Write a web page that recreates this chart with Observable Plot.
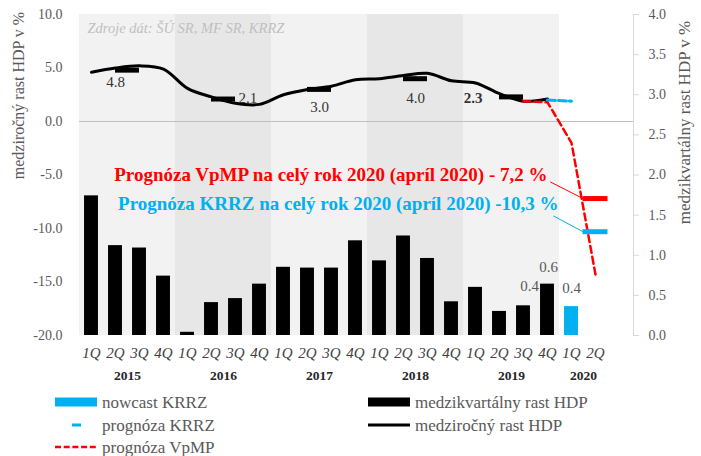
<!DOCTYPE html>
<html><head><meta charset="utf-8">
<script src="https://cdn.jsdelivr.net/npm/d3@7"></script>
<script src="https://cdn.jsdelivr.net/npm/@observablehq/plot@0.6"></script>
<style>
body{margin:0;background:#fff;}
#wrap{position:relative;width:701px;height:456px;font-family:"Liberation Serif",serif;overflow:hidden}
#wrap svg{display:block}
.leg{position:absolute;font-size:17px;color:#595959;line-height:1;white-space:nowrap;transform:translateY(-50%)}
.sw{position:absolute}
</style></head><body><div id="wrap"></div>
<script>
// ---------- data ----------
const years = [2015, 2016, 2017, 2018, 2019, 2020];
const quartersPerYear = [4, 4, 4, 4, 4, 2];
const quarterNames = ["1Q", "2Q", "3Q", "4Q"];
// medziročný rast HDP (left axis), 2015Q1 .. 2019Q4
const yoyGrowth = [4.6, 5.0, 5.2, 4.9, 3.1, 2.3, 1.7, 1.6, 2.5, 3.0, 3.3, 3.9, 4.0, 4.3, 4.5, 3.8, 3.6, 2.6, 1.9, 2.1];
// medzikvartálny rast HDP (right axis), 2015Q1 .. 2019Q4
const qoqGrowth = [1.74, 1.12, 1.09, 0.74, 0.04, 0.41, 0.46, 0.64, 0.85, 0.84, 0.84, 1.18, 0.93, 1.24, 0.96, 0.42, 0.60, 0.30, 0.37, 0.64];
// nowcast KRRZ (q-o-q), 2020Q1
const nowcastKRRZ = [0.36];
// prognóza KRRZ (y-o-y), 2019Q4 .. 2020Q1
const forecastKRRZ = [2.0, 1.9];
// prognóza VpMP (y-o-y), 2019Q3 .. 2020Q2
const forecastVpMP = [1.9, 1.8, -2.0, -14.3];
// annual y-o-y growth 2015..2019
const annualYoy = [4.8, 2.1, 3.0, 4.0, 2.3];
// full-year 2020 forecasts
const forecastSources = ["VpMP", "KRRZ"];
const forecastValues = [-7.2, -10.3];
const forecastTexts = ["Prognóza VpMP na celý rok 2020 (apríl 2020) - 7,2 %", "Prognóza KRRZ na celý rok 2020 (apríl 2020) -10,3 %"];
const leftTicks = [-20, -15, -10, -5, 0, 5, 10];
const rightTicks = [0, 0.5, 1, 1.5, 2, 2.5, 3, 3.5, 4];
const sourceNote = "Zdroje dát: ŠÚ SR, MF SR, KRRZ";
const leftTitle = "medziročný rast HDP v %";
const rightTitle = "medzikvartálny rast HDP v %";

// ---------- derived tables ----------
const quarters = [];
years.forEach((y, k) => { for (let q = 0; q < quartersPerYear[k]; q++) quarters.push({i: quarters.length, year: y, name: quarterNames[q]}); });
const yearSpans = years.map((y, k) => {
  const qs = quarters.filter(d => d.year === y);
  return {year: y, k, first: qs[0].i, last: qs[qs.length - 1].i, n: qs.length};
});
const R = v => -20 + v * 30 / 4; // right axis -> left axis units
const idxOf = (year, qn) => quarters.find(d => d.year === year && d.name === qn).i;

const yoyData = yoyGrowth.map((v, i) => ({i, v}));
const qoqData = qoqGrowth.map((v, i) => ({i, v}));
const nowData = nowcastKRRZ.map((v, k) => ({i: idxOf(2020, "1Q") + k, v}));
const krrzData = forecastKRRZ.map((v, k) => ({i: idxOf(2019, "4Q") + k, v}));
const vpmpData = forecastVpMP.map((v, k) => ({i: idxOf(2019, "3Q") + k, v}));
const annualData = annualYoy.map((v, k) => ({year: years[k], first: yearSpans[k].first, v}));
const fcData = forecastSources.map((s, k) => ({s, v: forecastValues[k], t: forecastTexts[k], i: idxOf(2020, "2Q")}));

// label placement (styles, not data)
const annualPlace = {
  2015: {x: 1, dx: 0, dy: 12, anchor: "middle", weight: "normal"},
  2016: {x: 2, dx: 3, dy: -1, anchor: "start", weight: "normal"},
  2017: {x: 1.5, dx: 0, dy: 18, anchor: "middle", weight: "normal"},
  2018: {x: 1.5, dx: 0, dy: 19, anchor: "middle", weight: "normal"},
  2019: {x: 1, dx: -17, dy: 1, anchor: "end", weight: "bold"}
};
const barLabelPlace = [{dx: 6, dy: -15}, {dx: 1, dy: -12}];
const colors = {VpMP: "#ff0000", KRRZ: "#00b0f0"};
const textPlace = {VpMP: {x: 19.0, y: -5.56, lx: 19.12, ly: -5.65}, KRRZ: {x: 19.46, y: -8.27, lx: 19.25, ly: -8.83}};
const gray = "#595959";
const bw = 0.29;

const chart = Plot.plot({
  width: 701, height: 385,
  marginLeft: 79, marginRight: 68, marginTop: 14, marginBottom: 50,
  x: {domain: [-0.5, 21.5], range: [79, 607], axis: null},
  y: {domain: [-20, 10], axis: null},
  style: {fontFamily: "Liberation Serif", background: "transparent", overflow: "visible"},
  marks: [
    // shaded background for complete years
    Plot.rect(yearSpans.filter(d => d.n === 4), {x1: d => d.first - 0.5, x2: d => d.last + 0.5, y1: -20, y2: 10, fill: d => d.k % 2 ? "#e7e7e7" : "#f2f2f2"}),
    Plot.ruleY([0], {stroke: "#bfbfbf", strokeWidth: 1}),
    Plot.frame({anchor: "right", stroke: "#d9d9d9"}),
    // q-o-q bars
    Plot.rectY(qoqData, {x1: d => d.i - bw, x2: d => d.i + bw, y1: -20, y2: d => R(d.v), fill: "#000"}),
    Plot.rectY(nowData, {x1: d => d.i - bw, x2: d => d.i + bw, y1: -20, y2: d => R(d.v), fill: "#00b0f0"}),
    // bar labels
    ...qoqData.slice(-2).map((d, k) => Plot.text([d], {x: "i", y: e => R(e.v), text: e => e.v.toFixed(1), lineAnchor: "bottom", dx: barLabelPlace[k].dx, dy: barLabelPlace[k].dy, fill: gray, fontSize: 15})),
    Plot.text(nowData, {x: "i", y: d => R(d.v), text: d => d.v.toFixed(1), lineAnchor: "bottom", dy: -14, fill: gray, fontSize: 15}),
    // y-o-y line
    Plot.line(yoyData, {x: "i", y: "v", stroke: "#000", strokeWidth: 3, curve: "catmull-rom"}),
    // annual averages
    Plot.ruleY(annualData, {x1: d => d.first + 1, x2: d => d.first + 2, y: "v", stroke: "#000", strokeWidth: 5}),
    ...annualData.map(d => Plot.text([d], {x: e => e.first + annualPlace[e.year].x, y: "v", text: e => e.v.toFixed(1), dx: annualPlace[d.year].dx, dy: annualPlace[d.year].dy, textAnchor: annualPlace[d.year].anchor, fontWeight: annualPlace[d.year].weight, fill: "#333", fontSize: 15})),
    // forecasts
    Plot.line(krrzData, {x: "i", y: "v", stroke: "#00b0f0", strokeWidth: 3, strokeDasharray: "8,3"}),
    Plot.line(vpmpData, {x: "i", y: "v", stroke: "#ff0000", strokeWidth: 2.5, strokeDasharray: "7,4"}),
    Plot.ruleY(fcData, {x1: d => d.i - 0.52, x2: d => d.i + 0.52, y: "v", stroke: d => colors[d.s], strokeWidth: 5}),
    Plot.link(fcData, {x1: d => textPlace[d.s].lx, y1: d => textPlace[d.s].ly, x2: d => d.i - 0.52, y2: "v", stroke: d => colors[d.s], strokeWidth: 1}),
    Plot.text(fcData, {x: d => textPlace[d.s].x, y: d => textPlace[d.s].y, text: "t", textAnchor: "end", lineAnchor: "bottom", fill: d => colors[d.s], fontWeight: "bold", fontSize: 19}),
    // source note
    Plot.text([sourceNote], {frameAnchor: "top-left", dx: 8, dy: 8, lineAnchor: "top", textAnchor: "start", fill: "#bfbfbf", fontStyle: "italic", fontSize: 14.5}),
    // axes
    Plot.axisY(leftTicks, {anchor: "left", label: null, tickSize: 0, tickPadding: 17, tickFormat: d => d.toFixed(1), fill: gray, fontSize: 14}),
    Plot.axisY(rightTicks.map(R), {anchor: "right", label: null, tickSize: 5, tickPadding: 10, stroke: "#d9d9d9", tickFormat: d => ((d + 20) * 4 / 30).toFixed(1), fill: gray, fontSize: 14}),
    Plot.axisX(quarters.map(d => d.i), {label: null, tickSize: 0, tickPadding: 12, tickFormat: i => quarters[i].name, fontStyle: "italic", fill: "#404040", fontSize: 15}),
    Plot.text(yearSpans, {x: d => (d.first + d.last) / 2, frameAnchor: "bottom", dy: 44, text: d => String(d.year), fontWeight: "bold", fill: "#262626", fontSize: 13.5}),
    // axis titles
    Plot.text([leftTitle], {frameAnchor: "left", textAnchor: "middle", dx: -61, dy: -79.5, rotate: -90, fill: gray, fontSize: 16}),
    Plot.text([rightTitle], {frameAnchor: "right", textAnchor: "middle", dx: 51, dy: -52.5, rotate: -90, fill: gray, fontSize: 17})
  ]
});
const wrap = document.getElementById("wrap");
wrap.appendChild(chart);

// ---------- legend (HTML, below the SVG) ----------
const legendItems = [
  {label: "nowcast KRRZ", kind: "rect", color: "#00b0f0", col: 0, row: 0},
  {label: "prognóza KRRZ", kind: "dash", color: "#00b0f0", col: 0, row: 1},
  {label: "prognóza VpMP", kind: "dashed", color: "#ff0000", col: 0, row: 2},
  {label: "medzikvartálny rast HDP", kind: "rect", color: "#000", col: 1, row: 0},
  {label: "medziročný rast HDP", kind: "line", color: "#000", col: 1, row: 1}
];
const colX = [55, 368], rowY = [402, 424.5, 447];
legendItems.forEach(it => {
  const x0 = colX[it.col], y0 = rowY[it.row];
  const s = document.createElementNS("http://www.w3.org/2000/svg", "svg");
  s.setAttribute("width", 44); s.setAttribute("height", 12);
  s.setAttribute("class", "sw");
  s.style.left = x0 + "px"; s.style.top = (y0 - 6) + "px";
  let inner = "";
  if (it.kind === "rect") inner = `<rect x="0" y="1.5" width="42" height="9" fill="${it.color}"/>`;
  if (it.kind === "dash") inner = `<line x1="17" x2="26" y1="6" y2="6" stroke="${it.color}" stroke-width="3"/>`;
  if (it.kind === "dashed") inner = `<line x1="0" x2="42" y1="6" y2="6" stroke="${it.color}" stroke-width="2.5" stroke-dasharray="6,2.7"/>`;
  if (it.kind === "line") inner = `<line x1="0" x2="42" y1="6" y2="6" stroke="${it.color}" stroke-width="3"/>`;
  s.innerHTML = inner;
  wrap.appendChild(s);
  const t = document.createElement("div");
  t.className = "leg"; t.textContent = it.label;
  t.style.left = (x0 + 47) + "px"; t.style.top = y0 + "px";
  wrap.appendChild(t);
});
</script></body></html>
